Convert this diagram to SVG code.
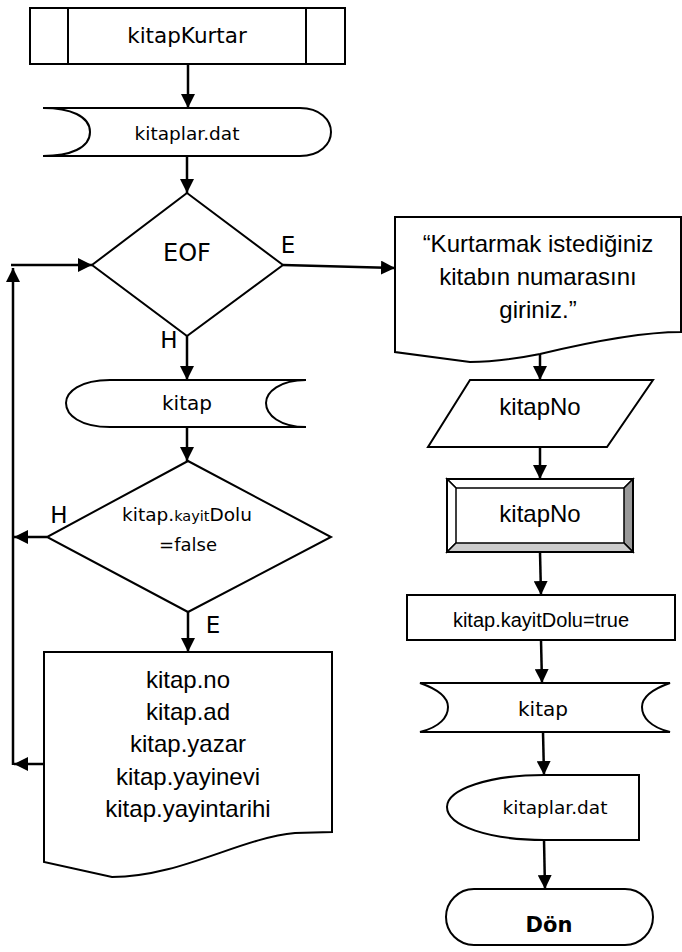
<svg xmlns="http://www.w3.org/2000/svg" width="682" height="952" viewBox="0 0 682 952">
<style>
.s{fill:#fff;stroke:#000;stroke-width:2}
.c{fill:none;stroke:#000;stroke-width:2.5}
.t{font-family:"DejaVu Sans",sans-serif;fill:#000;text-anchor:middle}
.k{font-family:"Liberation Sans",Arial,sans-serif;fill:#000;text-anchor:middle}
.l{font-family:"DejaVu Sans",sans-serif;fill:#000;text-anchor:middle;font-size:23px}
</style>
<defs>
<marker id="a" markerUnits="userSpaceOnUse" markerWidth="14" markerHeight="14" refX="14" refY="7" orient="auto">
<path d="M0,0 L14,7 L0,14 Z" fill="#000"/>
</marker>
</defs>
<rect width="682" height="952" fill="#fff"/>
<g id="connectors">
<line class="c" x1="188" y1="64" x2="188" y2="108" marker-end="url(#a)"/>
<line class="c" x1="187" y1="156" x2="187" y2="193" marker-end="url(#a)"/>
<line class="c" x1="283" y1="265" x2="395" y2="268" marker-end="url(#a)"/>
<line class="c" x1="187" y1="336" x2="187" y2="380" marker-end="url(#a)"/>
<line class="c" x1="187" y1="427" x2="187" y2="461" marker-end="url(#a)"/>
<line class="c" x1="47" y1="537" x2="14" y2="537" marker-end="url(#a)"/>
<line class="c" x1="188" y1="612" x2="188" y2="652" marker-end="url(#a)"/>
<line class="c" x1="44" y1="764" x2="14" y2="764" marker-end="url(#a)"/>
<line class="c" x1="13" y1="765" x2="13" y2="268" marker-end="url(#a)"/>
<line class="c" x1="11" y1="265" x2="92" y2="265" marker-end="url(#a)"/>
<line class="c" x1="540" y1="352" x2="540" y2="380" marker-end="url(#a)"/>
<line class="c" x1="540" y1="447" x2="540" y2="479" marker-end="url(#a)"/>
<line class="c" x1="540" y1="552" x2="541" y2="595" marker-end="url(#a)"/>
<line class="c" x1="541" y1="640" x2="542" y2="683" marker-end="url(#a)"/>
<line class="c" x1="543" y1="732" x2="544" y2="775" marker-end="url(#a)"/>
<line class="c" x1="544" y1="840" x2="545" y2="889" marker-end="url(#a)"/>
</g>
<g id="n1">
<rect class="s" x="30" y="8" width="315" height="56"/>
<line class="s" x1="68" y1="8" x2="68" y2="64"/>
<line class="s" x1="306" y1="8" x2="306" y2="64"/>
<text class="t" x="187" y="43" font-size="21.5">kitapKurtar</text>
</g>
<g id="n2">
<path class="s" d="M43,108 L300,108 C320,108 331,120 331,132 C331,144 320,156 300,156 L43,156 C70,156 90,148 90,132 C90,116 70,108 43,108 Z"/>
<text class="t" x="187" y="140" font-size="18.5">kitaplar.dat</text>
</g>
<g id="n3">
<polygon class="s" points="187,193 283,265 187,336 92,265"/>
<text class="t" x="187" y="261" font-size="24">EOF</text>
<text class="l" x="288" y="253">E</text>
<text class="l" x="169" y="348">H</text>
</g>
<g id="n4">
<path class="s" d="M306,380 L110,380 C80,380 66,392 66,403 C66,415 80,427 110,427 L306,427 C280,427 266,415 266,403 C266,392 280,380 306,380 Z"/>
<text class="t" x="187" y="410" font-size="20">kitap</text>
</g>
<g id="n5">
<polygon class="s" points="188,461 331,537 188,612 47,537"/>
<text class="t" x="187" y="521" font-size="18.5">kitap.<tspan font-size="14.5">kayit</tspan>Dolu</text>
<text class="t" x="188" y="551" font-size="18">=false</text>
<text class="l" x="59" y="523">H</text>
<text class="l" x="213" y="633">E</text>
</g>
<g id="n6">
<path class="s" d="M44,652 L332,652 L332,832 L295,833 C240,838 180,877 112,877 L44,862 Z"/>
<text class="k" x="188" y="688" font-size="24">kitap.no</text>
<text class="k" x="188" y="720" font-size="24">kitap.ad</text>
<text class="k" x="188" y="752" font-size="24">kitap.yazar</text>
<text class="k" x="188" y="785" font-size="24">kitap.yayinevi</text>
<text class="k" x="188" y="817" font-size="24">kitap.yayintarihi</text>
</g>
<g id="n7">
<path class="s" d="M395,217 L681,217 L681,332 C640,332 590,342 540,354 C510,360 490,362 470,362 L395,352 Z"/>
<text class="k" x="538" y="252" font-size="24">“Kurtarmak istediğiniz</text>
<text class="k" x="538" y="285" font-size="24">kitabın numarasını</text>
<text class="k" x="538" y="318" font-size="24">giriniz.”</text>
</g>
<g id="n8">
<polygon class="s" points="470,380 653,380 607,447 428,447"/>
<text class="k" x="540" y="415" font-size="24">kitapNo</text>
</g>
<g id="n9">
<rect class="s" x="447" y="479" width="186" height="73"/>
<polygon points="447,479 633,479 624,488 456,488" fill="#fff" stroke="#000" stroke-width="1.5"/>
<polygon points="447,479 456,488 456,543 447,552" fill="#fff" stroke="#000" stroke-width="1.5"/>
<polygon points="633,479 633,552 624,543 624,488" fill="#999" stroke="#000" stroke-width="1.5"/>
<polygon points="447,552 456,543 624,543 633,552" fill="#ccc" stroke="#000" stroke-width="1.5"/>
<rect x="447" y="479" width="186" height="73" fill="none" stroke="#000" stroke-width="2"/>
<text class="k" x="540" y="522" font-size="24">kitapNo</text>
</g>
<g id="n10">
<rect class="s" x="407" y="595" width="268" height="45"/>
<text class="k" x="541" y="627" font-size="20">kitap.kayitDolu=true</text>
</g>
<g id="n11">
<path class="s" d="M420,683 L670,683 C650,690 642,698 642,707 C642,717 650,727 670,732 L420,732 C440,727 448,717 448,707 C448,698 440,690 420,683 Z"/>
<text class="t" x="543" y="716" font-size="20">kitap</text>
</g>
<g id="n12">
<path class="s" d="M544,775 L639,775 L639,840 L544,840 C490,840 447,826 447,807 C447,789 490,775 544,775 Z"/>
<text class="t" x="555" y="814" font-size="18.5">kitaplar.dat</text>
</g>
<g id="n13">
<rect class="s" x="446" y="889" width="207" height="56" rx="28"/>
<text class="t" x="549" y="932" font-size="21" font-weight="bold">Dön</text>
</g>
</svg>
